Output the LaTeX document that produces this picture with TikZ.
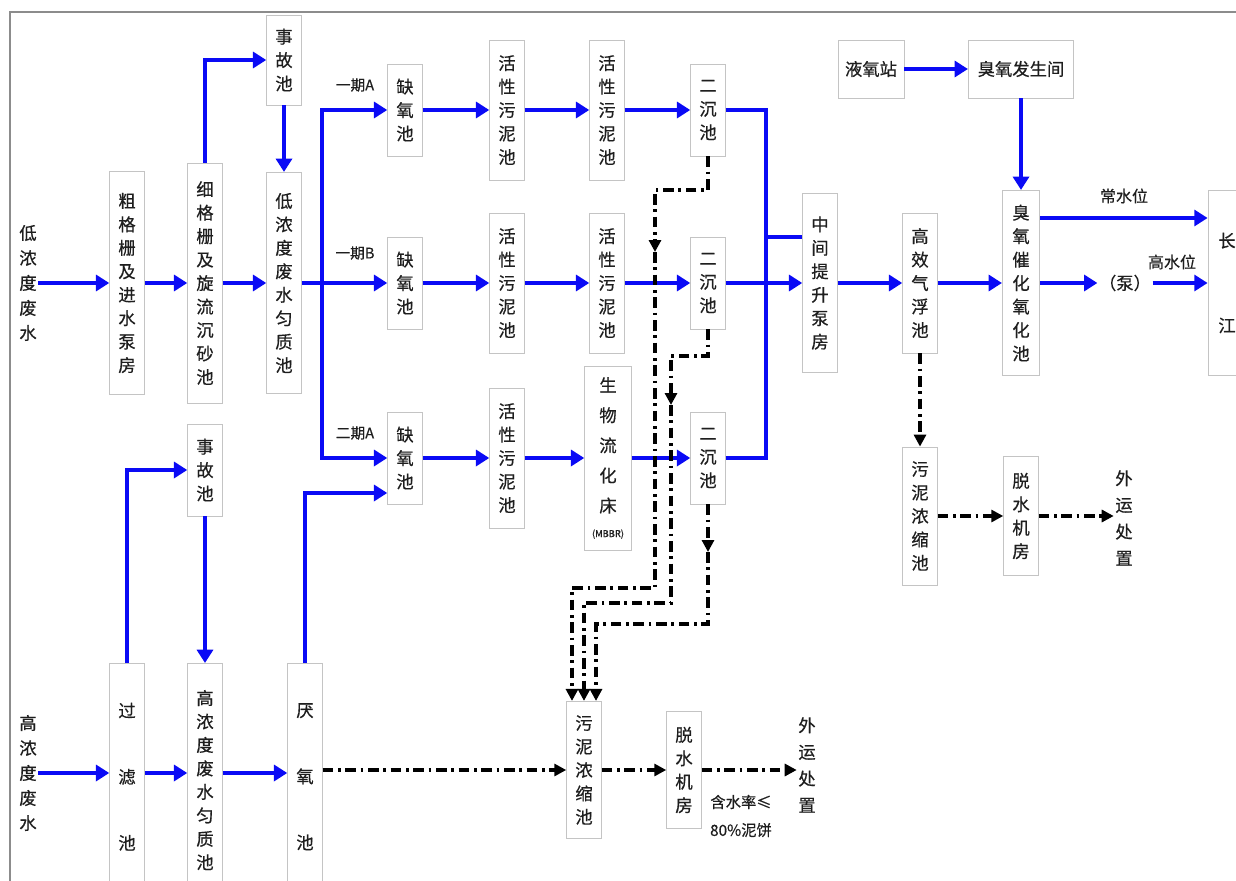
\documentclass[tikz,border=0pt]{standalone}
\usepackage{fontspec}
\setmainfont{Noto Sans CJK SC}[FakeBold=0.5]
\usepackage{tikz}
\usetikzlibrary{arrows.meta,calc}
\definecolor{ink}{HTML}{1E1E1E}
\definecolor{flowblue}{HTML}{0A0AF5}
\definecolor{boxline}{HTML}{C4C4C4}
\definecolor{framegray}{HTML}{8C8C8C}
\tikzset{
  unitbox/.style={rectangle,draw=boxline,line width=0.6pt,fill=white,text=ink,
    align=center,font=\fontsize{13}{17.6}\selectfont,
    minimum width=26pt,inner sep=1pt},
  flowarr/.style={-{Triangle[length=10pt,width=12pt]},line width=2.6pt,color=flowblue},
  flowpipe/.style={line width=2.6pt,color=flowblue},
  sludgearr/.style={-{Triangle[length=9pt,width=9pt]},line width=2.3pt,color=black,
    dash pattern=on 8pt off 3.5pt on 2pt off 3.5pt},
  flowlabel/.style={text=ink,font=\fontsize{11}{13}\selectfont,inner sep=1pt},
  sidelabel/.style={text=ink,align=center,font=\fontsize{13}{18.75}\selectfont,inner sep=1pt},
}
\begin{document}
\begin{tikzpicture}[x=0.75pt,y=-0.75pt]
  \useasboundingbox (0,0) rectangle (1236,881);
  \clip (0,0) rectangle (1236,881);
  \draw[framegray,line width=1.2pt] (10,12) rectangle (1300,950);

  % low-concentration line
  \node[sidelabel] (lowin) at (28,283) {低\\浓\\度\\废\\水};
  \node[unitbox,minimum height=167pt] (cg) at (127,283) {粗\\格\\栅\\及\\进\\水\\泵\\房};
  \node[unitbox,minimum height=180pt] (xg) at (205,283) {细\\格\\栅\\及\\旋\\流\\沉\\砂\\池};
  \node[unitbox,minimum height=67.5pt] (sg1) at (284,60) {事\\故\\池};
  \node[unitbox,minimum height=166pt] (lt) at (284,283) {低\\浓\\度\\废\\水\\匀\\质\\池};

  \node[unitbox,minimum height=69pt] (qa) at (405,110) {缺\\氧\\池};
  \node[unitbox,minimum height=69pt] (qb) at (405,283) {缺\\氧\\池};
  \node[unitbox,minimum height=69pt] (qc) at (405,458) {缺\\氧\\池};
  \node[flowlabel] (la) at (355,85) {一期A};
  \node[flowlabel] (lb) at (355,253) {一期B};
  \node[flowlabel] (lc) at (355,433) {二期A};

  \node[unitbox,minimum height=105pt] (ha1) at (507,110) {活\\性\\污\\泥\\池};
  \node[unitbox,minimum height=105pt] (hb1) at (507,283) {活\\性\\污\\泥\\池};
  \node[unitbox,minimum height=105pt] (hc1) at (507,458) {活\\性\\污\\泥\\池};
  \node[unitbox,minimum height=105pt] (ha2) at (607,110) {活\\性\\污\\泥\\池};
  \node[unitbox,minimum height=105pt] (hb2) at (607,283) {活\\性\\污\\泥\\池};
  \node[unitbox,minimum height=138pt,minimum width=35pt] (mbbr) at (608,458)
    {生\\[5pt]物\\[5pt]流\\[5pt]化\\[5pt]床\\[1pt]{\fontsize{7}{8}\selectfont(MBBR)}};

  \node[unitbox,minimum height=69pt] (ea) at (708,110) {二\\沉\\池};
  \node[unitbox,minimum height=69pt] (eb) at (708,283) {二\\沉\\池};
  \node[unitbox,minimum height=69pt] (ec) at (708,458) {二\\沉\\池};

  \node[unitbox,minimum height=134pt] (zj) at (820,283) {中\\间\\提\\升\\泵\\房};
  \node[unitbox,minimum height=105pt] (gx) at (920,283) {高\\效\\气\\浮\\池};
  \node[unitbox,minimum width=49.5pt,minimum height=43.5pt] (yq) at (871,69) {液氧站};
  \node[unitbox,minimum width=79pt,minimum height=43.5pt] (cf) at (1021,69) {臭氧发生间};
  \node[unitbox,minimum width=28pt,minimum height=139pt] (cy) at (1021,283) {臭\\氧\\催\\化\\氧\\化\\池};
  \node[unitbox,minimum width=28.5pt,minimum height=139pt] (cj) at (1227,283) {长\\[46pt]江};
  \node[sidelabel] (pump) at (1125,283) {（泵）};
  \node[flowlabel,font=\fontsize{12}{14}\selectfont] (lcs) at (1124,196) {常水位};
  \node[flowlabel,font=\fontsize{12}{14}\selectfont] (lgs) at (1172,262) {高水位};

  \node[unitbox,minimum height=103.5pt] (wn1) at (920,516) {污\\泥\\浓\\缩\\池};
  \node[unitbox,minimum height=89pt] (ts1) at (1021,516) {脱\\水\\机\\房};
  \node[sidelabel,font=\fontsize{13}{20}\selectfont] (wy1) at (1124,518) {外\\运\\处\\置};

  % high-concentration line
  \node[sidelabel] (highin) at (28,773) {高\\浓\\度\\废\\水};
  \node[unitbox,minimum height=69pt] (sg2) at (205,470) {事\\故\\池};
  \node[unitbox,anchor=north,minimum height=170pt] (gl) at (127,663) {过\\[32pt]滤\\[32pt]池};
  \node[unitbox,anchor=north,minimum height=175pt] (gn) at (205,663) {高\\浓\\度\\废\\水\\匀\\质\\池};
  \node[unitbox,anchor=north,minimum height=170pt] (yy) at (305,663) {厌\\[32pt]氧\\[32pt]池};

  \node[unitbox,minimum height=103pt] (wn2) at (584,770) {污\\泥\\浓\\缩\\池};
  \node[unitbox,minimum height=88pt] (ts2) at (684,770) {脱\\水\\机\\房};
  \node[sidelabel,font=\fontsize{13}{20}\selectfont] (wy2) at (807,765) {外\\运\\处\\置};
  \node[flowlabel,align=center,font=\fontsize{11.5}{21}\selectfont] (hsl) at (741,816) {含水率≤\\80\%泥饼};

  % water flow
  \draw[flowarr] (lowin) -- (cg);
  \draw[flowarr] (cg) -- (xg);
  \draw[flowarr] (xg) -- (lt);
  \draw[flowarr] (xg.north) |- (sg1);
  \draw[flowarr] (sg1) -- (lt);
  \coordinate (sp) at (322,283);
  \draw[flowarr] (lt) -- (qb);
  \draw[flowarr] (sp) |- (qa);
  \draw[flowarr] (sp) |- (qc);

  \draw[flowarr] (qa) -- (ha1);
  \draw[flowarr] (ha1) -- (ha2);
  \draw[flowarr] (ha2) -- (ea);
  \draw[flowarr] (qb) -- (hb1);
  \draw[flowarr] (hb1) -- (hb2);
  \draw[flowarr] (hb2) -- (eb);
  \draw[flowarr] (qc) -- (hc1);
  \draw[flowarr] (hc1) -- (mbbr);
  \draw[flowarr] (mbbr) -- (ec);

  \coordinate (jn) at (766,237);
  \draw[flowpipe] (ea.east) -| (jn) -- (jn -| zj.west);
  \draw[flowpipe] (ec.east) -| (jn);
  \draw[flowarr] (eb) -- (zj);
  \draw[flowarr] (zj) -- (gx);
  \draw[flowarr] (gx) -- (cy);
  \draw[flowarr] (yq) -- (cf);
  \draw[flowarr] (cf) -- (cy);
  \coordinate (hi) at ($(cy.east)+(0,-65)$);
  \draw[flowarr] (hi) -- (hi -| cj.west);
  \draw[flowarr] (cy) -- (pump);
  \draw[flowarr] (pump) -- (cj);

  \draw[flowarr] (highin) -- (highin -| gl.west);
  \draw[flowarr] (gl.east |- highin) -- (gn.west |- highin);
  \draw[flowarr] (gn.east |- highin) -- (yy.west |- highin);
  \draw[flowarr] (gl.north) |- (sg2);
  \draw[flowarr] (sg2) -- (gn);
  \coordinate (qin) at ($(qc.west)+(0,35)$);
  \draw[flowarr] (yy.north) |- (qin);

  % sludge
  \coordinate (sa1) at (655,190);
  \coordinate (sa2) at (655,252);
  \coordinate (sa3) at (572,588);
  \draw[sludgearr] (ea.south) |- (sa1) -- (sa2);
  \draw[sludgearr] (sa2) |- (sa3) -- (sa3 |- wn2.north);
  \coordinate (sb1) at (671,356);
  \coordinate (sb2) at (671,405);
  \coordinate (sb3) at (584,603);
  \draw[sludgearr] (eb.south) |- (sb1) -- (sb2);
  \draw[sludgearr] (sb2) |- (sb3) -- (sb3 |- wn2.north);
  \coordinate (sc1) at (708,552);
  \coordinate (sc2) at (596,624);
  \draw[sludgearr] (ec.south) -- (sc1);
  \draw[sludgearr] (sc1) |- (sc2) -- (sc2 |- wn2.north);

  \draw[sludgearr] (yy.east |- wn2.west) -- (wn2);
  \draw[sludgearr] (wn2) -- (ts2);
  \draw[sludgearr] (ts2) -- (ts2 -| wy2.west);
  \draw[sludgearr] (gx) -- (wn1);
  \draw[sludgearr] (wn1) -- (ts1);
  \draw[sludgearr] (ts1) -- (ts1 -| wy1.west);
\end{tikzpicture}
\end{document}
